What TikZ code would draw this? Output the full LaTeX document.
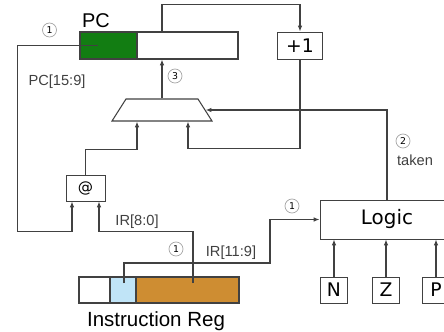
\documentclass[tikz,border=0pt]{standalone}
\usepackage{fontspec}
\setmainfont{Liberation Sans}
\newfontfamily\verd{DejaVu Sans}
\usetikzlibrary{shapes.geometric,arrows.meta,positioning,calc}

\definecolor{pcgreen}{RGB}{18,125,18}
\definecolor{irblue}{RGB}{192,228,247}
\definecolor{irorange}{RGB}{206,141,50}
\definecolor{wiregray}{RGB}{65,65,65}

\begin{document}
\begin{tikzpicture}[
    x=0.03cm, y=-0.03cm,
    >={Latex[length=5pt,width=4pt]},
    link/.style={draw=wiregray, line width=1.1pt},
    reg/.style={draw=wiregray, line width=0.9pt, inner sep=0, minimum height=0.81cm},
    box/.style={draw=wiregray, line width=0.8pt, inner sep=0, font=\verd\fontsize{16}{16}\selectfont},
    num/.style={circle, draw=gray!70, line width=0.6pt, inner sep=0, minimum size=0.42cm, font=\verd\fontsize{8}{8}\selectfont},
    lbl/.style={text=black!75, font=\fontsize{12.5}{12.5}\selectfont}
]

% page frame, pixel units
\useasboundingbox (0,0) rectangle (444,331);

% PC register and increment
\node [reg, fill=pcgreen, minimum width=1.71cm] (pchi) at (108.5,45.5) {};
\node [reg, minimum width=3.03cm] (pclo) at (187.5,45.5) {};
\node [font=\fontsize{17}{17}\selectfont, anchor=base] (pclbl) at (96,27) {PC};
\node [box, minimum width=1.35cm, minimum height=0.81cm] (inc) at (300,45.5) {+1};

% Mux
\node [trapezium, draw=wiregray, line width=0.9pt, trapezium left angle=79, trapezium right angle=79,
       trapezium stretches=true, minimum width=3cm, minimum height=0.66cm, inner sep=2pt] (mux) at (162,110) {};

% Address calc and branch logic
\node [box, font=\verd\fontsize{13}{13}\selectfont, minimum width=1.17cm, minimum height=0.78cm] (addr) at (85.5,188) {@};
\node [box, font=\verd\fontsize{17}{17}\selectfont, minimum width=4.02cm, minimum height=1.17cm] (logic) at (387,219.5) {Logic};

% Condition codes
\foreach \f/\x in {N/334, Z/386, P/436}
{
    \node [box, minimum width=0.8cm, minimum height=0.78cm] (cc\f) at (\x,290) {\f};
    \draw [link, ->] (cc\f) -- (cc\f |- logic.south);
}

% Instruction register
\node [reg, minimum width=0.93cm, minimum height=0.78cm] (irop) at (94.5,290) {};
\node [reg, fill=irblue, minimum width=0.78cm, minimum height=0.78cm] (ircc) at (123,290) {};
\node [reg, fill=irorange, minimum width=3.09cm, minimum height=0.78cm] (iroff) at (187.5,290) {};
\node [font=\fontsize{17.5}{17.5}\selectfont, anchor=base] (irlbl) at (156,326) {Instruction Reg};

% Tap points
\coordinate (pctap) at ($(pchi.center)+(-11,0)$);
\coordinate (offtap) at ($(iroff.center)+(5.5,-7)$);
\coordinate (cctap) at ($(ircc.center)+(1,-7)$);
\coordinate (muxl) at ($(mux.south)+(-25,0)$);
\coordinate (muxr) at ($(mux.south)+(26,0)$);
\coordinate (addrl) at ($(addr.south)+(-13.5,0)$);
\coordinate (addrr) at ($(addr.south)+(13.5,0)$);

% Wires
\draw [link, ->] (mux.north |- pclo.north) -- ++(0,-27) -| (inc.north);
\draw [link, ->] (inc.south) |- ($(muxr)+(0,27)$) -- (muxr);
\draw [link, ->] (mux.north) -- (mux.north |- pclo.south);
\draw [link, ->] (pctap) -- ++(-80,0) |- ($(addrl)+(0,30)$) -- (addrl);
\draw [link, ->] (offtap) |- ($(addrr)+(0,30)$) -- (addrr);
\draw [link, ->] (addr.north) |- ($(muxl)+(0,28)$) -- (muxl);
\draw [link, ->] (cctap) |- ++(146,-20) |- (logic.west);
\draw [link, ->] (logic.north) |- (mux.east);

% Labels
\node [lbl] (pcbits) at (57,82) {PC[15:9]};
\node [lbl] (offbits) at (137,222) {IR[8:0]};
\node [lbl] (ccbits) at (231,253) {IR[11:9]};
\node [lbl] (tk) at (415,160) {taken};

% Step numbers
\node [num] (s1a) at (49.5,30) {1};
\node [num] (s3) at (175,76) {3};
\node [num] (s1b) at (176,249) {1};
\node [num] (s1c) at (292,206) {1};
\node [num] (s2) at (403,141) {2};

\end{tikzpicture}
\end{document}
